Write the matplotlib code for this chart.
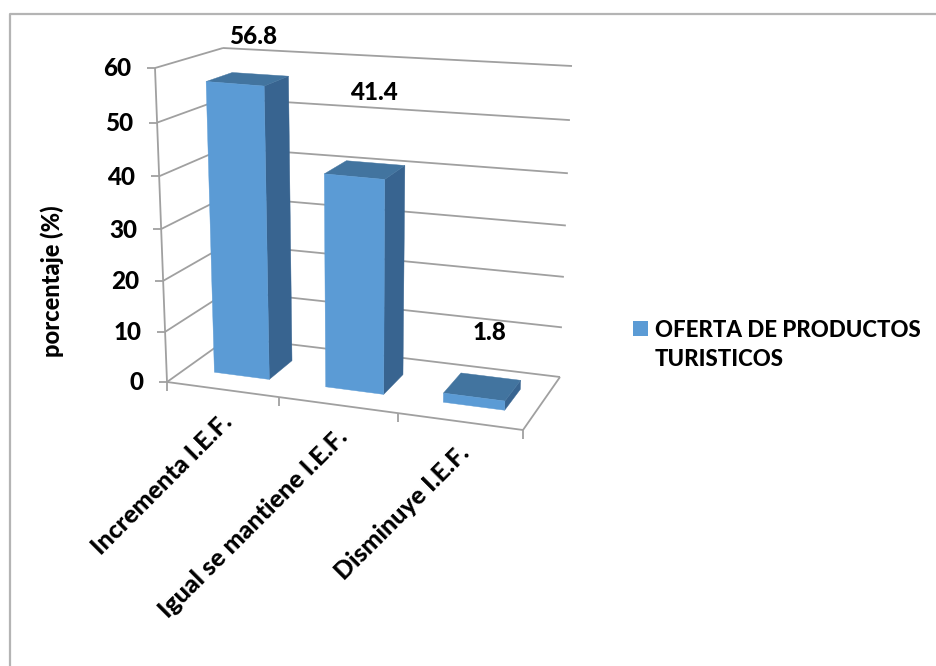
import matplotlib
matplotlib.use("Agg")
import matplotlib.pyplot as plt
from matplotlib.patches import Rectangle

plt.rcParams['font.family'] = ['Lato', 'DejaVu Sans']

categorias = ["Incrementa I.E.F.", "Igual se mantiene I.E.F.", "Disminuye I.E.F."]
valores = [56.8, 41.4, 1.8]
marcas_y = [0, 10, 20, 30, 40, 50, 60]
serie = "OFERTA DE PRODUCTOS\nTURISTICOS"
titulo_y = "porcentaje (%)"

# where the 3D box corners land on the picture (pixels)
suelo = {"fi": (167, 382), "fd": (523, 430), "ai": (230, 337), "ad": (560, 377)}
techo = {"fi": (155, 68), "fd": (533, 100), "ai": (223, 48), "ad": (572, 66)}

AZUL = "#5b9bd5"
LATERAL = "#386490"
ARRIBA = "#42749f"
GRIS = "#a0a0a0"
VMAX = 60
PESO = 900


def proy(t, w, v):
    # t along categories 0-1, w depth 0-1, v the value
    u = t * 0.92 / (1 + (0.92 - 1) * t)
    s = v / VMAX
    f = s * 0.95 / (1 + (0.95 - 1) * s)
    res = []
    for k in (0, 1):
        abajo = ((1 - u) * (1 - w) * suelo["fi"][k] + u * (1 - w) * suelo["fd"][k]
                 + (1 - u) * w * suelo["ai"][k] + u * w * suelo["ad"][k])
        arriba = ((1 - u) * (1 - w) * techo["fi"][k] + u * (1 - w) * techo["fd"][k]
                  + (1 - u) * w * techo["ai"][k] + u * w * techo["ad"][k])
        res.append(abajo + f * (arriba - abajo))
    return res


def linea(a, b, **kw):
    ax.plot([a[0], b[0]], [a[1], b[1]], color=GRIS, lw=1.3, solid_capstyle="butt", **kw)


def cara(puntos, color):
    ax.fill([p[0] for p in puntos], [p[1] for p in puntos], color=color, lw=0.3, zorder=5)


fig = plt.figure(figsize=(9.36, 6.66), dpi=100)
ax = fig.add_axes([0, 0, 1, 1])
ax.set_xlim(0, 936)
ax.set_ylim(666, 0)
ax.axis("off")

# chart area frame, only top and left show up
ax.plot([936, 10, 10], [14, 14, 666], color="#b4b4b4", lw=1.6)

# gridlines on the walls + ticks on y axis
for v in marcas_y:
    a = proy(0, 0, v)
    b = proy(0, 1, v)
    c = proy(1, 1, v)
    linea(a, b)
    linea(b, c)
    linea((a[0] - 8, a[1]), a)
    ax.text(a[0] - 24, a[1] + 1, str(v), ha="right", va="center", fontsize=17.5, fontweight=PESO, color="black")

# floor and vertical axis
linea(proy(0, 0, 0), proy(1, 0, 0))
linea(proy(1, 0, 0), proy(1, 1, 0))
linea(proy(0, 0, 0), proy(0, 0, VMAX))

for i in range(len(categorias) + 1):
    p = proy(i / len(categorias), 0, 0)
    linea(p, (p[0], p[1] + 9))

# bars
for i, val in enumerate(valores):
    t0 = (i + 0.265) / len(valores)
    t1 = (i + 0.765) / len(valores)
    w0, w1 = 0.3, 0.7
    cara([proy(t1, w0, 0), proy(t1, w1, 0), proy(t1, w1, val), proy(t1, w0, val)], LATERAL)
    cara([proy(t0, w0, val), proy(t1, w0, val), proy(t1, w1, val), proy(t0, w1, val)], ARRIBA)
    cara([proy(t0, w0, 0), proy(t1, w0, 0), proy(t1, w0, val), proy(t0, w0, val)], AZUL)

# value labels sit well above the bars, offset differs per bar
pos_etiquetas = [(253, 36), (374, 92), (490, 332)]
for val, (x, y) in zip(valores, pos_etiquetas):
    ax.text(x, y, str(val), ha="center", va="center", fontsize=17.5, fontweight=PESO, color="black", zorder=6)

# category labels
for i, cat in enumerate(categorias):
    p = proy((i + 0.5) / len(categorias), 0, 0)
    ax.text(p[0] - 2, p[1] + 20, cat, rotation=45, rotation_mode="anchor", ha="right", va="top",
            fontsize=18, fontweight=PESO, color="black")

ax.text(52, 281, titulo_y, rotation=90, ha="center", va="center", fontsize=17, fontweight=PESO, color="black")

# legend
ax.add_patch(Rectangle((633, 321), 15, 15, color=AZUL, lw=0))
ax.text(655, 345, serie, ha="left", va="center", fontsize=16, fontweight=PESO, color="black", linespacing=1.5)

fig.savefig("out.png", dpi=100)
